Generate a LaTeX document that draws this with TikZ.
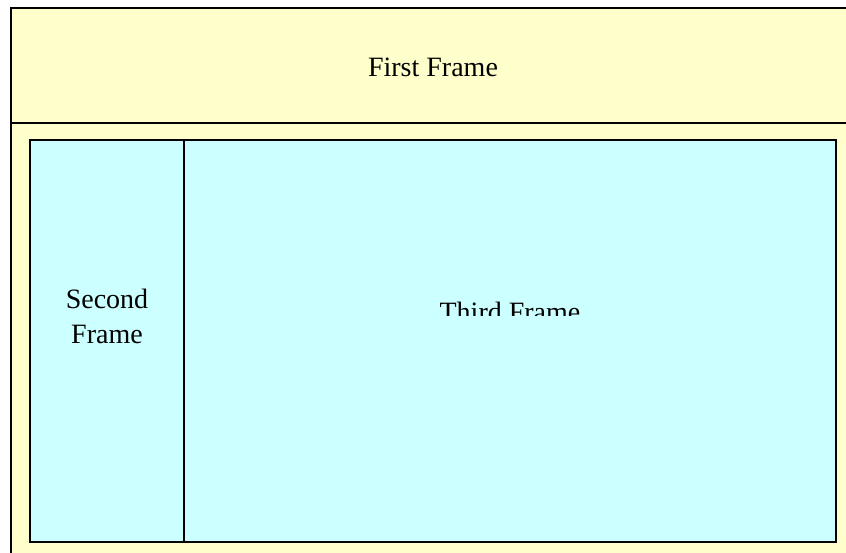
\documentclass[tikz,border=0pt]{standalone}
\usepackage{fontspec}
\setmainfont{Liberation Serif}
\definecolor{paleyellow}{HTML}{FFFFCC}
\definecolor{palecyan}{HTML}{CCFFFF}
\tikzset{
  framebox/.style={draw=black, line width=2pt},
  framelabel/.style={inner sep=0pt, font=\fontsize{28}{35}\selectfont, text=black}
}
\begin{document}
\begin{tikzpicture}[x=1pt, y=-1pt]
  \useasboundingbox (0,0) rectangle (846,553);
  \fill[white] (0,0) rectangle (846,553);
  \begin{scope}
    \clip (0,0) rectangle (846,553);
    % outer frameset and its top row
    \path[framebox, fill=paleyellow] (11,8) rectangle (855,570);
    \draw[line width=2pt] (11,123) -- (855,123);
    % lower row: two side-by-side frames
    \path[framebox, fill=palecyan] (30,140) rectangle (836,542);
    \draw[line width=2pt] (184,140) -- (184,542);
  \end{scope}
  \coordinate (firstc) at (433,77);
  \coordinate (secondc) at (107,343);
  \coordinate (thirdc) at (510,321);
  \node[framelabel, anchor=base] (first) at (firstc) {First Frame};
  \node[framelabel, anchor=base, align=center] (second) at (secondc) {Second\\Frame};
  \begin{scope}
    \clip (185,141) rectangle (835,316);
    \node[framelabel, anchor=base] (third) at (thirdc) {Third Frame};
  \end{scope}
\end{tikzpicture}
\end{document}
